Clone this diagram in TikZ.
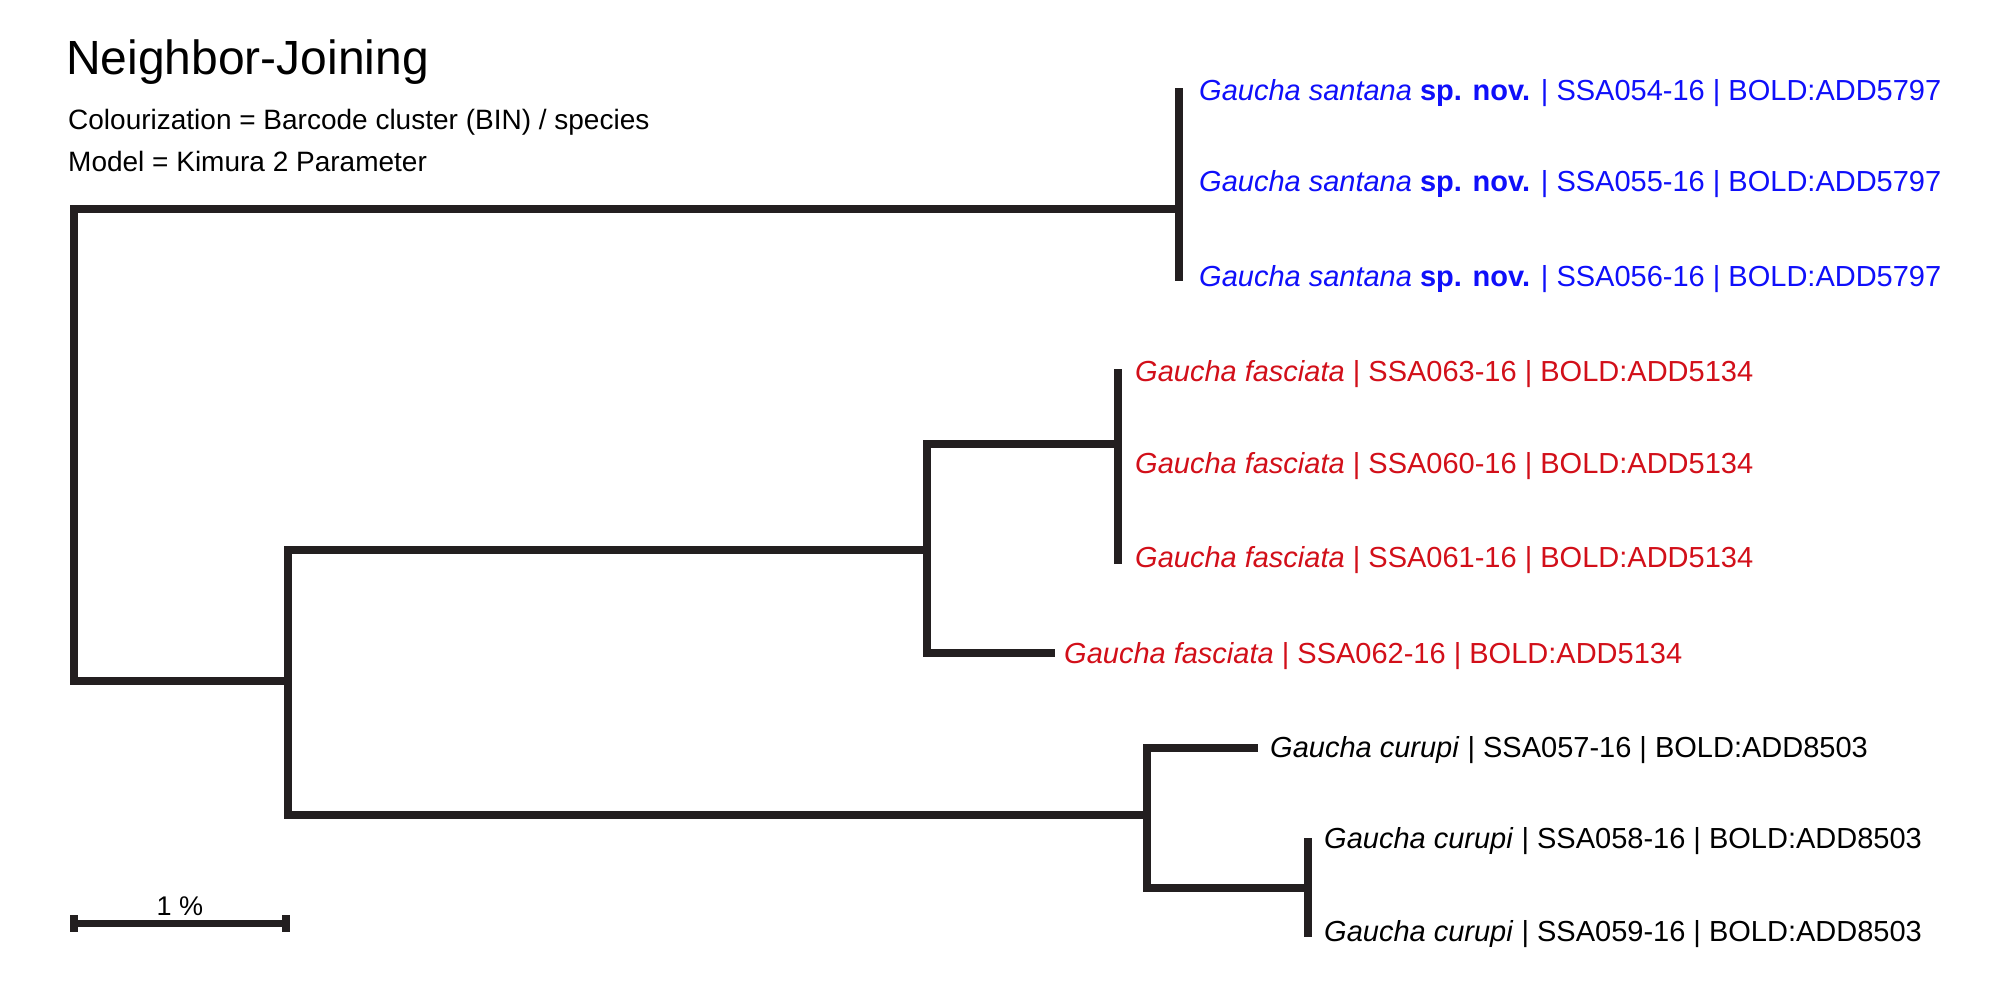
\documentclass[tikz,border=0pt]{standalone}
\usepackage{fontspec}
\setmainfont{Liberation Sans}
\definecolor{treeline}{RGB}{35,31,32}
\definecolor{bluelab}{RGB}{15,15,250}
\definecolor{redlab}{RGB}{210,15,25}
\tikzset{
  branch/.style={draw=treeline, line width=7.5pt, line join=miter, line cap=rect},
  lab/.style={anchor=base west, inner sep=0pt, font=\fontsize{29}{34}\selectfont},
  hdr/.style={anchor=base west, inner sep=0pt, font=\fontsize{28}{33}\selectfont},
  bluetxt/.style={lab, text=bluelab},
  redtxt/.style={lab, text=redlab},
  blacktxt/.style={lab, text=black},
}
\begin{document}
\begin{tikzpicture}[x=1pt, y=-1pt]
\useasboundingbox[fill=white] (0,0) rectangle (2010,997);

% headers
\node[anchor=base west, inner sep=0pt, font=\fontsize{48}{56}\selectfont] (title) at (66,74) {Neighbor-Joining};
\node[hdr] (colour) at (68,129) {Colourization = Barcode cluster (BIN) / species};
\node[hdr] (model) at (68,171) {Model = Kimura 2 Parameter};

% internal nodes and leaves
\coordinate (root) at (74,445);
\coordinate (S) at (1179,209);
\coordinate (l054) at (1179,92);
\coordinate (l056) at (1179,277);
\coordinate (A) at (288,681);
\coordinate (B) at (927,550);
\coordinate (C) at (1118,444);
\coordinate (l063) at (1118,373);
\coordinate (l061) at (1118,560);
\coordinate (t062) at (1051,653);
\coordinate (D) at (1147,815);
\coordinate (t057) at (1254,748);
\coordinate (E) at (1308,888);
\coordinate (l058) at (1308,842);
\coordinate (l059) at (1308,933);

% branches
\draw[branch] (S) -| (root) |- (A);
\draw[branch] (l054) -- (l056);
\draw[branch] (B) -| (A) |- (D);
\draw[branch] (C) -| (B) |- (t062);
\draw[branch] (l063) -- (l061);
\draw[branch] (t057) -| (D) |- (E);
\draw[branch] (l058) -- (l059);

% labels
\node[bluetxt] (n054) at (1199,100) {\textit{Gaucha santana} \textbf{sp. nov.} | SSA054-16 | BOLD:ADD5797};
\node[bluetxt] (n055) at (1199,191) {\textit{Gaucha santana} \textbf{sp. nov.} | SSA055-16 | BOLD:ADD5797};
\node[bluetxt] (n056) at (1199,286) {\textit{Gaucha santana} \textbf{sp. nov.} | SSA056-16 | BOLD:ADD5797};
\node[redtxt] (n063) at (1135,381) {\textit{Gaucha fasciata} | SSA063-16 | BOLD:ADD5134};
\node[redtxt] (n060) at (1135,473) {\textit{Gaucha fasciata} | SSA060-16 | BOLD:ADD5134};
\node[redtxt] (n061) at (1135,567) {\textit{Gaucha fasciata} | SSA061-16 | BOLD:ADD5134};
\node[redtxt] (n062) at (1064,663) {\textit{Gaucha fasciata} | SSA062-16 | BOLD:ADD5134};
\node[blacktxt] (n057) at (1270,757) {\textit{Gaucha curupi} | SSA057-16 | BOLD:ADD8503};
\node[blacktxt] (n058) at (1324,848) {\textit{Gaucha curupi} | SSA058-16 | BOLD:ADD8503};
\node[blacktxt] (n059) at (1324,941) {\textit{Gaucha curupi} | SSA059-16 | BOLD:ADD8503};

% scale bar
\coordinate (sb1) at (74,923);
\coordinate (sb2) at (286,923);
\draw[draw=treeline, line width=7pt] (sb1) -- (sb2);
\draw[draw=treeline, line width=8pt] ([yshift=-8.5pt]sb1) -- ([yshift=8.5pt]sb1);
\draw[draw=treeline, line width=8pt] ([yshift=-8.5pt]sb2) -- ([yshift=8.5pt]sb2);
\node[anchor=base, inner sep=0pt, font=\fontsize{27}{32}\selectfont] (sblab) at (180,915) {1 \%};
\end{tikzpicture}
\end{document}
